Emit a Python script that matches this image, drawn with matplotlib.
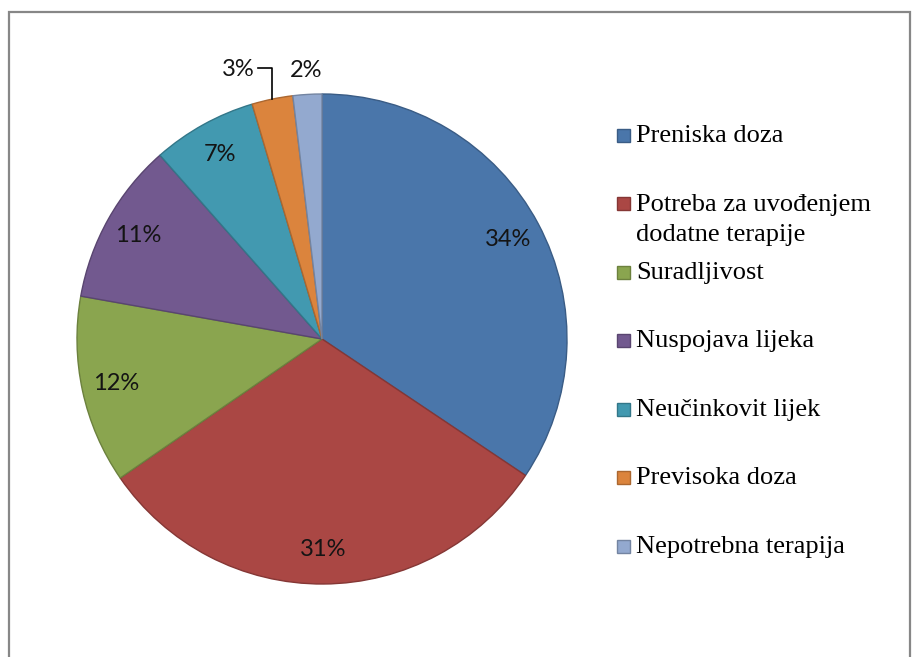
import numpy as np
import matplotlib.pyplot as plt
from matplotlib.patches import Rectangle
from matplotlib.lines import Line2D
from matplotlib.colors import to_rgb

# data (shares in %, labels show them rounded)
labels = ['Preniska doza', 'Potreba za uvođenjem\ndodatne terapije', 'Suradljivost',
          'Nuspojava lijeka', 'Neučinkovit lijek', 'Previsoka doza', 'Nepotrebna terapija']
values = [34.4, 31.0, 12.4, 10.7, 6.9, 2.7, 1.9]
colors = ['#4A76AA', '#AA4744', '#8AA54F', '#72598F', '#4299B0', '#DB843D', '#93A9CF']
edges = [tuple(0.78 * c for c in to_rgb(col)) for col in colors]

W, H = 915, 657
fig = plt.figure(figsize=(W / 100, H / 100), dpi=100)

# chart frame (runs past the bottom of the picture)
fig.add_artist(Rectangle((9 / W, -0.05), (910 - 9) / W, (H - 12) / H + 0.05,
                         transform=fig.transFigure, fill=False,
                         edgecolor='#878787', linewidth=1.6))

# pie axes: centre (322, 339) px, radius 245 px
cx, cy, r = 322, 339, 245
ax = fig.add_axes([(cx - r) / W, (H - cy - r) / H, 2 * r / W, 2 * r / H])
wedges, _, autotexts = ax.pie(values, colors=colors, startangle=90, counterclock=False,
                              autopct='%1.0f%%', pctdistance=0.86,
                              wedgeprops=dict(linewidth=1.0),
                              textprops=dict(fontsize=17, family=['Lato', 'DejaVu Sans'],
                                             color='#141414'))
for w, ec in zip(wedges, edges):
    w.set_edgecolor(ec)
ax.set_xlim(-1, 1)
ax.set_ylim(-1, 1)
ax.axis('off')

# the two small slices get outside labels
total = sum(values)
cum = np.cumsum(values)
mid = [np.deg2rad(90 - 360 * (c - v / 2) / total) for c, v in zip(cum, values)]

ly = 1.10
a2 = mid[6]
autotexts[6].set_position((1.10 * np.cos(a2), ly - 0.005))
autotexts[6].set_ha('center')

a3 = mid[5]
xe, ye = np.cos(a3), np.sin(a3)
ax.add_line(Line2D([xe, xe, xe - 0.058], [ye, ly + 0.008, ly + 0.008],
                   color='black', linewidth=1.2, clip_on=False))
autotexts[5].set_position((xe - 0.072, ly))
autotexts[5].set_ha('right')

# legend drawn by hand so the two-line entry keeps its square on the first line
lx, ly0, step = 617, 135, 68.5
for i, (lab, col, ec) in enumerate(zip(labels, colors, edges)):
    yc = ly0 + step * i
    fig.add_artist(Rectangle((lx / W, (H - yc - 6.5) / H), 13 / W, 13 / H,
                             transform=fig.transFigure, facecolor=col,
                             edgecolor=ec, linewidth=1.0))
    for k, line in enumerate(lab.split('\n')):
        fig.text((lx + 19) / W, (H - yc - 7 - 31 * k) / H, line,
                 fontsize=19, family=['Liberation Serif', 'DejaVu Serif'],
                 ha='left', va='baseline', color='black')

fig.savefig('out.png', dpi=100, facecolor='white')
